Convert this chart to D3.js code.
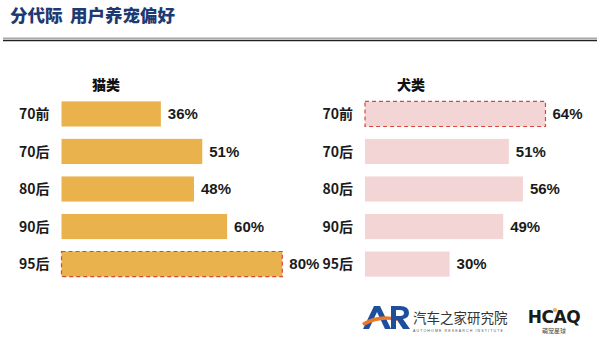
<!DOCTYPE html>
<html><head><meta charset="utf-8">
<script src="https://cdn.jsdelivr.net/npm/d3@7/dist/d3.min.js"></script>
<style>
html,body{margin:0;padding:0;background:#fff;}
svg{display:block;font-family:"Noto Sans CJK SC","Noto Sans",sans-serif;}
</style></head><body>
<script>
// Pet preference by generation (share of owners, %)
const generations = ["70前", "70后", "80后", "90后", "95后"];
const catValues = [36, 51, 48, 60, 80];
const dogValues = [64, 51, 56, 49, 30];
const catHighlight = "95后";
const dogHighlight = "70前";

const W = 600, H = 349;
const svg = d3.select("body").append("svg").attr("width", W).attr("height", H);

// Header
svg.append("text").attr("x", 10).attr("y", 22)
  .attr("font-size", 17.5).attr("font-weight", 900).attr("fill", "#1e3a72")
  .text("分代际");
svg.append("text").attr("x", 70).attr("y", 22)
  .attr("font-size", 17.5).attr("font-weight", 900).attr("fill", "#1e3a72")
  .text("用户养宠偏好");
svg.append("line").attr("x1", 3).attr("x2", 597).attr("y1", 38.3).attr("y2", 38.3)
  .attr("stroke", "#a8a8a8").attr("stroke-width", 1.6);
svg.append("line").attr("x1", 3).attr("x2", 597).attr("y1", 40.5).attr("y2", 40.5)
  .attr("stroke", "#222").attr("stroke-width", 1.3);

const y = d3.scaleBand().domain(generations).range([95, 283]).paddingInner(0.33).paddingOuter(0.17);

function panel(opts) {
  const x = d3.scaleLinear().domain([0, 100]).range([opts.x0, opts.x0 + opts.pxPerPct * 100]);
  const g = svg.append("g");
  g.append("text").attr("x", opts.titleX).attr("y", 85).attr("dy", "0.35em")
    .attr("font-size", 14).attr("font-weight", 900).attr("fill", "#111").text(opts.title);
  const data = generations.map((k, i) => ({ k, v: opts.values[i] }));
  g.selectAll("text.cat").data(data).join("text").attr("class", "cat")
    .attr("x", opts.x0 - 12).attr("y", d => y(d.k) + y.bandwidth() / 2).attr("dy", "0.36em")
    .attr("text-anchor", "end").attr("font-size", 14).attr("font-weight", 700).attr("fill", "#1a1a1a")
    .text(d => d.k);
  g.selectAll("rect.bar").data(data).join("rect").attr("class", "bar")
    .attr("x", x(0)).attr("y", d => y(d.k)).attr("width", d => x(d.v) - x(0)).attr("height", y.bandwidth())
    .attr("fill", opts.color);
  const hl = data.filter(d => d.k === opts.highlight);
  g.selectAll("rect.hl").data(hl).join("rect").attr("class", "hl")
    .attr("x", x(0)).attr("y", d => y(d.k)).attr("width", d => x(d.v) - x(0)).attr("height", y.bandwidth())
    .attr("fill", "none").attr("stroke", "#d9473c").attr("stroke-width", 1.2).attr("stroke-dasharray", "4,3");
  g.selectAll("text.val").data(data).join("text").attr("class", "val")
    .attr("x", d => x(d.v) + 7).attr("y", d => y(d.k) + y.bandwidth() / 2).attr("dy", "0.36em")
    .attr("font-size", 15).attr("font-weight", 700).attr("fill", "#1a1a1a")
    .attr("font-family", "Arial, 'Liberation Sans', sans-serif")
    .text(d => d.v + "%");
}

panel({ x0: 61.5, pxPerPct: 2.76, values: catValues, color: "#e9b24c", highlight: catHighlight, title: "猫类", titleX: 92 });
panel({ x0: 365, pxPerPct: 2.82, values: dogValues, color: "#f3d5d5", highlight: dogHighlight, title: "犬类", titleX: 397 });

// Footer logos
const logo = svg.append("g");
logo.append("path").attr("d", "M363,329 L374,306 L380,306 L391,329 L385,329 L377,312 L369,329 Z").attr("fill", "#1f4e9c");
logo.append("path").attr("d", "M362,323 Q378,313 398,318 L397,321 Q380,317 364,326 Z").attr("fill", "#e8782c");
logo.append("path").attr("d", "M391,306 L400,306 Q409,306 409,313 Q409,318 403,319 L410,329 L403,329 L397,320 L396,320 L396,329 L391,329 Z M396,310 L396,316 L400,316 Q404,316 404,313 Q404,310 400,310 Z").attr("fill", "#1f4e9c");
logo.append("text").attr("x", 413).attr("y", 323).attr("font-size", 13.5).attr("fill", "#333").text("汽车之家研究院");
logo.append("text").attr("x", 413).attr("y", 332).attr("font-size", 3.6).attr("letter-spacing", 1.1).attr("fill", "#555")
  .attr("font-family", "Arial, sans-serif").text("AUTOHOME  RESEARCH  INSTITUTE");
logo.append("text").attr("x", 554).attr("y", 323).attr("text-anchor", "middle").attr("font-size", 17).attr("font-weight", 900)
  .attr("fill", "#1a1a1a").attr("font-family", "'DejaVu Sans', sans-serif").attr("letter-spacing", -0.5).text("HCAQ");
logo.append("circle").attr("cx", 555).attr("cy", 310).attr("r", 2).attr("fill", "#e8b04a");
logo.append("text").attr("x", 554).attr("y", 333).attr("text-anchor", "middle").attr("font-size", 6).attr("fill", "#444").text("萌宠星球");
</script>
</body></html>
